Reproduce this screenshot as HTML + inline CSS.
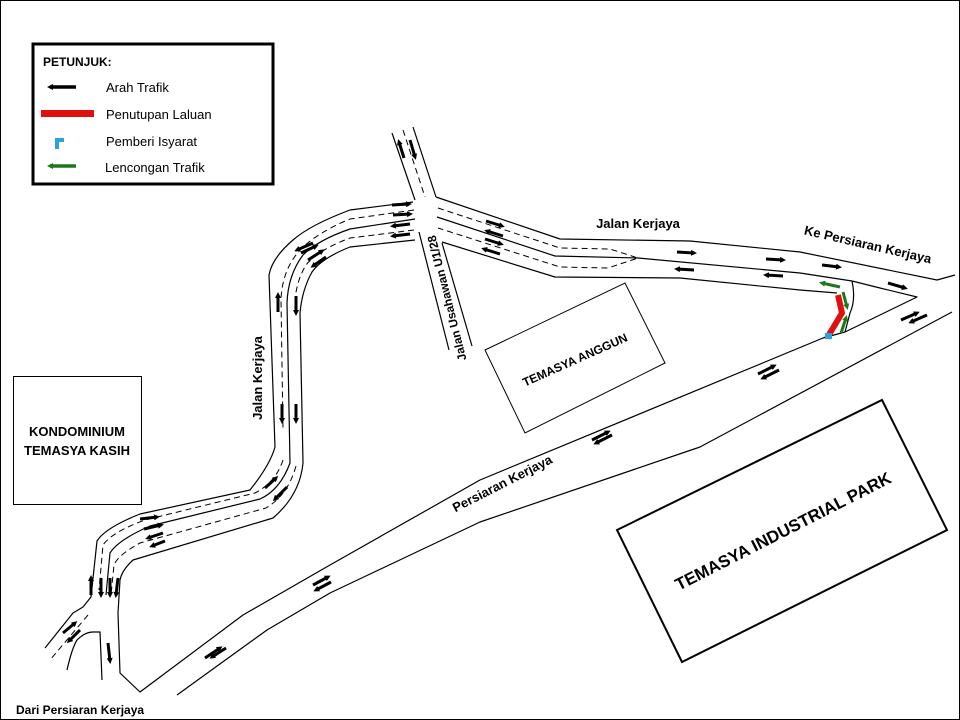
<!DOCTYPE html>
<html><head><meta charset="utf-8"><style>
html,body{margin:0;padding:0;background:#fff}
svg{display:block}
text{font-family:"Liberation Sans",sans-serif}
</style></head><body>
<svg width="960" height="720" viewBox="0 0 960 720" xmlns="http://www.w3.org/2000/svg">
<defs>
<marker id="a" markerWidth="6" markerHeight="6" refX="3" refY="3" orient="auto" markerUnits="userSpaceOnUse"><path d="M0,0 L6,3 L0,6 z" fill="#000"/></marker>
<marker id="g" markerWidth="6" markerHeight="6" refX="3" refY="3" orient="auto" markerUnits="userSpaceOnUse"><path d="M0,0 L6,3 L0,6 z" fill="#1a7a1a"/></marker>
</defs>
<rect x="0.5" y="0.5" width="959" height="719" fill="#fff" stroke="#000" stroke-width="1"/>

<g fill="none" stroke="#000" stroke-width="1.2" stroke-linejoin="round">
<path d="M392,133 L415,200"/><path d="M413,127 L436,197"/>
<path d="M419,232 L449,350"/><path d="M442,243 L472,346"/>
<path d="M413,202 L350,210 Q310,225 293,240 Q272,258 269,275 L275,447 Q270,465 250,490 L140,514 Q105,528 97,541 L91,597 L83,607 L73,613 L45,648"/>
<path d="M415,219 L350,229 Q318,240 303,255 Q288,275 287,303 L290,463 Q280,490 260,499 L150,526 Q118,540 110,553 L106,595"/>
<path d="M415,240 L350,247 Q322,258 312,272 Q302,290 300,313 L303,463 Q300,495 273,518 L133,560 Q122,570 120,580 L118,613 L120,673 L140,692 L243,615 L330,565 L480,480 L823,338 L845,332"/>
<path d="M67,670 Q72,648 77,640 Q85,632 93,632 L100,632 L102,680"/>
<path d="M177,695 L267,630 L330,593 L480,522 L700,447 L952,312"/>
<path d="M436,197 L560,239 L690,241 L800,252 L937,280 L955,275"/>
<path d="M437,217 L555,256 L638,258 L800,273 L852,281"/>
<path d="M442,242 L555,277 L680,278 L800,290 L837,293"/>
<path d="M852,281 Q856,300 850,313 L845,332 L917,297 L880,288 Z"/>
</g>
<g fill="none" stroke="#000" stroke-width="1" stroke-dasharray="6,4">
<path d="M403,130 L425,197"/>
<path d="M414,210 L350,219 Q318,232 300,250 Q282,270 281,300 L283,430"/>
<path d="M414,230 L350,238 Q318,250 306,265 Q294,285 295,310"/>
<path d="M283,460 Q276,482 255,493 L145,520 Q112,532 103,545 L99,590"/>
<path d="M296,466 Q288,495 266,508 L140,543 Q118,555 114,565 L111,595"/>
<path d="M88,615 L50,660"/>
<path d="M438,208 L560,248 L610,249 L638,258 L608,268 L560,267 L438,228"/>
</g>

<g stroke="#000" stroke-width="3" marker-end="url(#a)">
<line x1="404" y1="158" x2="399" y2="142"/><line x1="410" y1="140" x2="415" y2="157"/>
<line x1="392" y1="205" x2="409" y2="204"/><line x1="393" y1="215" x2="410" y2="214"/>
<line x1="410" y1="224" x2="393" y2="226"/><line x1="410" y1="234" x2="393" y2="236"/>
<line x1="313" y1="243" x2="297" y2="250"/><line x1="301" y1="253" x2="316" y2="246"/>
<line x1="308" y1="260" x2="322" y2="251"/><line x1="326" y1="257" x2="313" y2="266"/>
<line x1="278" y1="312" x2="278" y2="295"/><line x1="296" y1="296" x2="296" y2="313"/>
<line x1="282" y1="404" x2="282" y2="421"/><line x1="296" y1="404" x2="296" y2="421"/>
<line x1="265" y1="488" x2="276" y2="478"/><line x1="287" y1="487" x2="275" y2="499"/>
<line x1="140" y1="519" x2="157" y2="517"/><line x1="144" y1="529" x2="161" y2="525"/>
<line x1="163" y1="533" x2="148" y2="538"/><line x1="165" y1="541" x2="152" y2="546"/>
<line x1="91" y1="595" x2="91" y2="578"/><line x1="101" y1="578" x2="101" y2="595"/>
<line x1="110" y1="578" x2="110" y2="595"/><line x1="118" y1="578" x2="116" y2="595"/>
<line x1="63" y1="633" x2="75" y2="623"/><line x1="80" y1="630" x2="69" y2="641"/>
<line x1="108" y1="643" x2="110" y2="661"/>
<line x1="205" y1="658" x2="220" y2="648"/><line x1="226" y1="648" x2="212" y2="657"/>
<line x1="313" y1="585" x2="328" y2="577"/><line x1="331" y1="582" x2="316" y2="590"/>
<line x1="592" y1="440" x2="608" y2="432"/><line x1="612" y1="435" x2="596" y2="443"/>
<line x1="758" y1="374" x2="774" y2="366"/><line x1="779" y1="370" x2="763" y2="378"/>
<line x1="901" y1="320" x2="917" y2="313"/><line x1="927" y1="315" x2="911" y2="322"/>
<line x1="486" y1="221" x2="502" y2="226"/><line x1="503" y1="236" x2="487" y2="231"/>
<line x1="485" y1="239" x2="501" y2="244"/><line x1="500" y1="254" x2="484" y2="249"/>
<line x1="677" y1="252" x2="694" y2="253"/><line x1="694" y1="270" x2="677" y2="269"/>
<line x1="766" y1="259" x2="783" y2="260"/><line x1="783" y1="276" x2="766" y2="275"/>
<line x1="822" y1="265" x2="839" y2="267"/><line x1="888" y1="283" x2="905" y2="288"/>
</g>

<polyline points="838,295 842,313 827,338" fill="none" stroke="#e01010" stroke-width="6" stroke-linejoin="round"/>
<rect x="825" y="333" width="7" height="6" fill="#29a3e0"/>
<g stroke="#1a7a1a" stroke-width="3" marker-end="url(#g)">
<line x1="840" y1="287" x2="822" y2="283"/>
<line x1="843" y1="292" x2="847" y2="307"/>
<line x1="841" y1="333" x2="846" y2="318"/>
</g>

<rect x="13.5" y="376.5" width="128" height="128" fill="none" stroke="#000"/>
<text x="77" y="436" font-size="13" font-weight="bold" text-anchor="middle">KONDOMINIUM</text>
<text x="77" y="455" font-size="13" font-weight="bold" text-anchor="middle">TEMASYA KASIH</text>
<polygon points="485,350 625,283 665,363 525,433" fill="none" stroke="#000"/>
<text x="575" y="364" font-size="12" font-weight="bold" text-anchor="middle" transform="rotate(-24 575 360)">TEMASYA ANGGUN</text>
<polygon points="617,530 882,400 947,530 682,662" fill="none" stroke="#000" stroke-width="2"/>
<text x="783" y="537" font-size="17" font-weight="bold" text-anchor="middle" transform="rotate(-27 783 531)">TEMASYA INDUSTRIAL PARK</text>

<text x="638" y="228" font-size="13" font-weight="bold" text-anchor="middle">Jalan Kerjaya</text>
<text x="868" y="249" font-size="13" font-weight="bold" text-anchor="middle" transform="rotate(13 868 244)">Ke Persiaran Kerjaya</text>
<text x="502" y="488" font-size="13" font-weight="bold" text-anchor="middle" transform="rotate(-27 502 483)">Persiaran Kerjaya</text>
<text x="258" y="382" font-size="13" font-weight="bold" text-anchor="middle" transform="rotate(-90 258 378)">Jalan Kerjaya</text>
<text x="447" y="302" font-size="12" font-weight="bold" text-anchor="middle" transform="rotate(-104 447 298)">Jalan Usahawan U1/28</text>
<text x="16" y="714" font-size="12" font-weight="bold">Dari Persiaran Kerjaya</text>

<rect x="33" y="44" width="240" height="140" fill="#fff" stroke="#000" stroke-width="3"/>
<text x="43" y="66" font-size="12" font-weight="bold">PETUNJUK:</text>
<line x1="76" y1="87" x2="50" y2="87" stroke="#000" stroke-width="3.5" marker-end="url(#a)"/>
<rect x="41" y="110" width="53" height="7" fill="#e01010"/>
<path d="M55,138 h9 v4 h-5 v7 h-4 z" fill="#29a3e0"/>
<line x1="76" y1="166" x2="50" y2="166" stroke="#1a7a1a" stroke-width="3.5" marker-end="url(#g)"/>
<text x="106" y="92" font-size="13">Arah Trafik</text>
<text x="106" y="119" font-size="13">Penutupan  Laluan</text>
<text x="106" y="146" font-size="13">Pemberi  Isyarat</text>
<text x="105" y="172" font-size="13">Lencongan Trafik</text>
</svg>
</body></html>
